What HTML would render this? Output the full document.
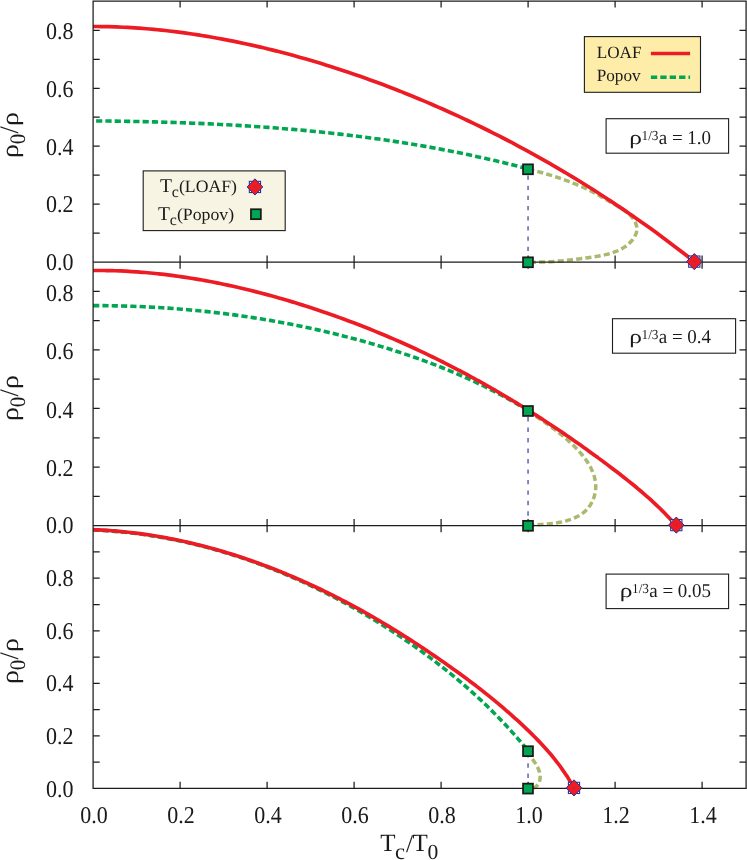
<!DOCTYPE html>
<html><head><meta charset="utf-8"><title>Condensate fraction</title>
<style>
html,body{margin:0;padding:0;background:#fff;}
body{width:747px;height:860px;overflow:hidden;position:relative;font-family:"Liberation Serif",serif;}
</style></head><body>
<svg width="747" height="860" viewBox="0 0 747 860" style="display:block;position:absolute;left:0;top:0" font-family="'Liberation Serif', serif" fill="#1a1a1a" text-rendering="geometricPrecision">
<defs><filter id="gs" x="-5%" y="-5%" width="110%" height="110%" color-interpolation-filters="sRGB"><feOffset dx="0" dy="0"/></filter></defs>
<rect width="747" height="860" fill="#fff"/>
<!-- legend boxes -->
<rect x="584.4" y="36.6" width="116.1" height="55.7" fill="#fdeda8" stroke="#1c1c1c" stroke-width="1.1"/>
<rect x="143.2" y="170.9" width="142" height="59.7" fill="#f7f4e4" stroke="#1c1c1c" stroke-width="1.1"/>
<rect x="606.1" y="118.7" width="122.5" height="34.5" fill="#fff" stroke="#1c1c1c" stroke-width="1.1"/>
<rect x="612.5" y="318.7" width="123.1" height="34.5" fill="#fff" stroke="#1c1c1c" stroke-width="1.1"/>
<rect x="606.1" y="574.1" width="122.5" height="34.5" fill="#fff" stroke="#1c1c1c" stroke-width="1.1"/>
<!-- panel 1 -->
<path d="M528.05,175.46V258.10" stroke="#6a6cb8" stroke-width="1.6" stroke-dasharray="4.3 5.87" fill="none"/>
<path d="M528.30,169.10C528.80,169.22 530.31,169.59 531.32,169.84C532.33,170.09 533.33,170.35 534.34,170.61C535.35,170.87 536.36,171.13 537.37,171.40C538.38,171.67 539.39,171.95 540.41,172.23C541.42,172.51 542.43,172.79 543.44,173.08C544.45,173.37 545.46,173.66 546.47,173.96C547.48,174.26 548.49,174.56 549.50,174.87C550.51,175.18 551.52,175.49 552.53,175.81C553.54,176.13 554.54,176.45 555.55,176.78C556.55,177.11 557.56,177.44 558.56,177.78C559.56,178.12 560.57,178.46 561.56,178.81C562.56,179.16 563.56,179.52 564.56,179.88C565.55,180.24 566.55,180.60 567.54,180.97C568.53,181.35 569.52,181.72 570.50,182.11C571.49,182.49 572.47,182.88 573.45,183.27C574.43,183.66 575.41,184.06 576.38,184.47C577.35,184.88 578.33,185.29 579.29,185.70C580.26,186.12 581.22,186.55 582.18,186.98C583.14,187.41 584.10,187.84 585.05,188.28C586.00,188.72 586.95,189.17 587.89,189.63C588.83,190.08 589.77,190.54 590.70,191.01C591.63,191.47 592.56,191.95 593.49,192.43C594.41,192.91 595.33,193.39 596.24,193.88C597.15,194.38 598.06,194.88 598.97,195.38C599.87,195.89 600.77,196.40 601.66,196.91C602.56,197.43 603.45,197.95 604.35,198.48C605.24,199.00 606.13,199.53 607.03,200.06C607.93,200.58 608.83,201.12 609.74,201.65C610.64,202.18 611.55,202.71 612.47,203.24C613.39,203.78 614.31,204.31 615.24,204.84C616.18,205.37 617.12,205.90 618.05,206.44C618.99,206.99 619.93,207.53 620.85,208.10C621.77,208.66 622.69,209.24 623.59,209.85C624.48,210.45 625.37,211.07 626.22,211.73C627.08,212.39 627.91,213.06 628.71,213.79C629.51,214.51 630.28,215.26 631.00,216.06C631.73,216.86 632.42,217.71 633.05,218.58C633.67,219.45 634.26,220.36 634.75,221.29C635.25,222.22 635.69,223.18 636.02,224.14C636.35,225.10 636.61,226.09 636.75,227.07C636.89,228.05 636.93,229.04 636.85,230.02C636.77,230.99 636.56,231.97 636.27,232.93C635.98,233.89 635.57,234.84 635.11,235.76C634.65,236.68 634.09,237.59 633.49,238.46C632.89,239.33 632.22,240.18 631.52,240.98C630.83,241.78 630.08,242.55 629.32,243.28C628.56,244.00 627.77,244.69 626.95,245.33C626.14,245.98 625.30,246.59 624.43,247.16C623.57,247.74 622.68,248.28 621.78,248.79C620.88,249.29 619.95,249.77 619.01,250.22C618.06,250.66 617.10,251.08 616.12,251.47C615.15,251.86 614.16,252.23 613.15,252.57C612.15,252.91 611.13,253.23 610.10,253.53C609.08,253.82 608.04,254.10 606.99,254.36C605.94,254.62 604.89,254.86 603.83,255.09C602.77,255.32 601.70,255.53 600.63,255.73C599.56,255.93 598.49,256.12 597.42,256.30C596.34,256.48 595.27,256.65 594.20,256.81C593.12,256.98 592.05,257.13 590.98,257.29C589.92,257.44 588.85,257.59 587.80,257.74C586.74,257.89 585.68,258.04 584.63,258.18C583.58,258.33 582.53,258.47 581.49,258.60C580.45,258.74 579.41,258.88 578.37,259.01C577.33,259.14 576.29,259.27 575.26,259.39C574.23,259.52 573.19,259.64 572.16,259.75C571.13,259.87 570.11,259.99 569.08,260.10C568.05,260.21 567.02,260.31 566.00,260.42C564.97,260.52 563.94,260.62 562.92,260.71C561.89,260.81 560.87,260.90 559.84,260.98C558.81,261.07 557.79,261.15 556.76,261.23C555.73,261.31 554.70,261.38 553.67,261.45C552.63,261.52 551.60,261.58 550.57,261.64C549.53,261.70 548.49,261.75 547.45,261.80C546.41,261.85 545.37,261.89 544.32,261.93C543.27,261.97 542.22,262.00 541.17,262.03C540.12,262.06 539.06,262.08 538.00,262.10C536.93,262.12 535.87,262.13 534.79,262.13C533.72,262.14 532.65,262.14 531.56,262.14C530.48,262.13 528.84,262.11 528.30,262.10" fill="none" stroke="#a9b96e" stroke-width="3.5" stroke-dasharray="6.1 3.2" />
<path d="M93.10,120.90C94.03,120.90 96.80,120.93 98.65,120.95C100.49,120.96 102.34,120.98 104.19,121.00C106.04,121.02 107.89,121.05 109.74,121.07C111.59,121.09 113.44,121.12 115.29,121.14C117.14,121.17 118.99,121.20 120.84,121.22C122.69,121.25 124.54,121.28 126.39,121.32C128.24,121.35 130.09,121.38 131.94,121.42C133.79,121.45 135.64,121.49 137.49,121.53C139.34,121.56 141.20,121.60 143.05,121.64C144.90,121.69 146.75,121.73 148.60,121.77C150.45,121.82 152.31,121.86 154.16,121.91C156.01,121.96 157.86,122.01 159.71,122.06C161.57,122.11 163.42,122.17 165.27,122.22C167.12,122.28 168.98,122.33 170.83,122.39C172.68,122.45 174.53,122.51 176.39,122.57C178.24,122.64 180.09,122.70 181.94,122.77C183.80,122.83 185.65,122.90 187.50,122.97C189.35,123.04 191.21,123.11 193.06,123.19C194.91,123.26 196.76,123.34 198.62,123.42C200.47,123.50 202.32,123.58 204.17,123.66C206.03,123.74 207.88,123.83 209.73,123.91C211.58,124.00 213.44,124.09 215.29,124.18C217.14,124.27 218.99,124.36 220.84,124.46C222.70,124.56 224.55,124.65 226.40,124.75C228.25,124.85 230.10,124.96 231.96,125.06C233.81,125.16 235.66,125.27 237.51,125.38C239.36,125.49 241.21,125.60 243.06,125.72C244.91,125.83 246.77,125.95 248.62,126.07C250.47,126.18 252.32,126.31 254.17,126.43C256.02,126.55 257.87,126.68 259.72,126.81C261.57,126.94 263.42,127.07 265.27,127.20C267.12,127.34 268.97,127.47 270.82,127.61C272.67,127.75 274.51,127.89 276.36,128.04C278.21,128.18 280.06,128.33 281.91,128.48C283.76,128.63 285.60,128.78 287.45,128.94C289.30,129.09 291.15,129.25 292.99,129.41C294.84,129.57 296.69,129.73 298.53,129.90C300.38,130.07 302.23,130.24 304.07,130.41C305.92,130.58 307.76,130.76 309.61,130.93C311.45,131.11 313.30,131.29 315.14,131.48C316.99,131.66 318.83,131.85 320.67,132.04C322.52,132.23 324.36,132.42 326.20,132.61C328.05,132.81 329.89,133.01 331.73,133.21C333.57,133.41 335.41,133.62 337.25,133.82C339.10,134.03 340.94,134.24 342.78,134.46C344.62,134.67 346.46,134.89 348.30,135.11C350.14,135.33 351.97,135.56 353.81,135.78C355.65,136.01 357.49,136.24 359.33,136.47C361.16,136.71 363.00,136.95 364.84,137.19C366.67,137.43 368.51,137.67 370.35,137.92C372.18,138.16 374.02,138.41 375.85,138.67C377.68,138.92 379.52,139.18 381.35,139.44C383.18,139.70 385.02,139.97 386.85,140.23C388.68,140.50 390.51,140.77 392.34,141.05C394.17,141.32 396.00,141.60 397.83,141.88C399.66,142.16 401.49,142.45 403.32,142.74C405.15,143.03 406.98,143.32 408.81,143.62C410.63,143.91 412.46,144.21 414.29,144.52C416.11,144.82 417.94,145.13 419.76,145.44C421.59,145.75 423.41,146.07 425.23,146.39C427.06,146.71 428.88,147.03 430.70,147.36C432.52,147.68 434.34,148.01 436.16,148.35C437.98,148.68 439.80,149.02 441.62,149.36C443.44,149.71 445.26,150.05 447.08,150.40C448.90,150.75 450.71,151.11 452.53,151.46C454.34,151.82 456.16,152.18 457.97,152.55C459.79,152.92 461.60,153.29 463.41,153.66C465.23,154.04 467.04,154.41 468.85,154.80C470.66,155.18 472.47,155.57 474.28,155.96C476.09,156.35 477.90,156.74 479.71,157.14C481.52,157.54 483.32,157.95 485.13,158.35C486.94,158.76 488.74,159.17 490.55,159.59C492.35,160.01 494.15,160.43 495.96,160.85C497.76,161.28 499.56,161.71 501.36,162.14C503.16,162.58 504.96,163.01 506.76,163.46C508.56,163.90 510.36,164.35 512.16,164.80C513.95,165.25 515.75,165.71 517.54,166.17C519.34,166.63 521.13,167.09 522.93,167.56C524.72,168.03 527.41,168.75 528.30,168.99" fill="none" stroke="#00a651" stroke-width="3.6" stroke-dasharray="6.2 3.1" stroke-dashoffset="-3.0"/>
<path d="M93.10,26.48C94.37,26.49 98.17,26.50 100.71,26.53C103.25,26.56 105.78,26.61 108.32,26.67C110.85,26.73 113.39,26.81 115.93,26.91C118.46,27.00 121.00,27.11 123.54,27.23C126.07,27.35 128.61,27.49 131.14,27.64C133.68,27.80 136.22,27.96 138.75,28.15C141.29,28.33 143.83,28.52 146.36,28.73C148.90,28.94 151.43,29.17 153.97,29.41C156.51,29.65 159.04,29.90 161.58,30.16C164.12,30.43 166.65,30.71 169.19,31.00C171.72,31.30 174.26,31.60 176.80,31.92C179.33,32.24 181.87,32.58 184.41,32.93C186.94,33.27 189.48,33.63 192.02,34.01C194.55,34.38 197.09,34.77 199.62,35.16C202.16,35.56 204.70,35.98 207.23,36.40C209.77,36.82 212.31,37.26 214.84,37.71C217.38,38.16 219.91,38.62 222.45,39.10C224.99,39.57 227.52,40.06 230.06,40.56C232.60,41.06 235.13,41.57 237.67,42.09C240.20,42.62 242.74,43.15 245.28,43.70C247.81,44.25 250.35,44.81 252.89,45.38C255.42,45.95 257.96,46.53 260.49,47.13C263.03,47.72 265.57,48.33 268.10,48.95C270.64,49.56 273.18,50.19 275.71,50.84C278.25,51.48 280.79,52.13 283.32,52.79C285.86,53.46 288.39,54.13 290.93,54.82C293.47,55.51 296.00,56.21 298.54,56.92C301.08,57.63 303.61,58.35 306.15,59.08C308.68,59.81 311.22,60.55 313.76,61.31C316.29,62.06 318.83,62.83 321.37,63.60C323.90,64.38 326.44,65.17 328.97,65.97C331.51,66.77 334.05,67.58 336.58,68.40C339.12,69.22 341.66,70.05 344.19,70.89C346.73,71.73 349.26,72.59 351.80,73.45C354.34,74.32 356.87,75.19 359.41,76.08C361.95,76.96 364.48,77.86 367.02,78.77C369.56,79.68 372.09,80.60 374.63,81.53C377.16,82.46 379.70,83.40 382.24,84.35C384.77,85.30 387.31,86.26 389.85,87.24C392.38,88.21 394.92,89.19 397.45,90.19C399.99,91.18 402.53,92.19 405.06,93.21C407.60,94.22 410.14,95.25 412.67,96.29C415.21,97.33 417.74,98.38 420.28,99.44C422.82,100.50 425.35,101.57 427.89,102.65C430.43,103.74 432.96,104.83 435.50,105.93C438.04,107.04 440.57,108.15 443.11,109.28C445.64,110.41 448.18,111.55 450.72,112.70C453.25,113.84 455.79,115.01 458.33,116.18C460.86,117.35 463.40,118.53 465.93,119.73C468.47,120.92 471.01,122.13 473.54,123.34C476.08,124.56 478.62,125.79 481.15,127.03C483.69,128.27 486.22,129.52 488.76,130.78C491.30,132.05 493.83,133.32 496.37,134.61C498.91,135.90 501.44,137.19 503.98,138.51C506.51,139.82 509.05,141.14 511.59,142.47C514.12,143.81 516.66,145.15 519.20,146.51C521.73,147.87 524.27,149.24 526.81,150.62C529.34,152.00 531.88,153.40 534.41,154.81C536.95,156.21 539.49,157.63 542.02,159.07C544.56,160.50 547.10,161.94 549.63,163.40C552.17,164.86 554.70,166.33 557.24,167.81C559.78,169.29 562.31,170.79 564.85,172.30C567.39,173.81 569.92,175.33 572.46,176.86C574.99,178.40 577.53,179.95 580.07,181.51C582.60,183.07 585.14,184.65 587.68,186.24C590.21,187.82 592.75,189.43 595.28,191.04C597.82,192.66 600.36,194.29 602.89,195.93C605.43,197.58 607.97,199.24 610.50,200.91C613.04,202.58 615.58,204.27 618.11,205.97C620.65,207.67 623.18,209.38 625.72,211.11C628.26,212.85 630.79,214.59 633.33,216.35C635.87,218.11 638.40,219.88 640.94,221.67C643.47,223.46 646.01,225.27 648.55,227.09C651.08,228.91 653.62,230.75 656.16,232.60C658.69,234.45 661.23,236.32 663.76,238.20C666.30,240.08 668.84,241.98 671.37,243.90C673.91,245.81 676.45,247.74 678.98,249.69C681.52,251.64 684.05,253.60 686.59,255.58C689.13,257.57 692.93,260.58 694.20,261.58" fill="none" stroke="#ed1c24" stroke-width="3.7" stroke-linecap="butt"/>
<!-- panel 2 -->
<path d="M528.05,417.1V521.60" stroke="#6a6cb8" stroke-width="1.6" stroke-dasharray="4.4 6.07" fill="none"/>
<path d="M528.30,411.10C528.65,411.34 529.70,412.05 530.39,412.53C531.08,413.00 531.77,413.47 532.46,413.93C533.15,414.40 533.83,414.86 534.51,415.32C535.19,415.79 535.86,416.24 536.54,416.70C537.21,417.16 537.88,417.61 538.55,418.06C539.21,418.52 539.88,418.97 540.54,419.42C541.20,419.87 541.85,420.32 542.51,420.78C543.16,421.23 543.82,421.68 544.47,422.13C545.12,422.58 545.76,423.03 546.41,423.48C547.05,423.93 547.69,424.39 548.33,424.84C548.97,425.29 549.61,425.75 550.25,426.21C550.88,426.67 551.51,427.13 552.15,427.59C552.78,428.05 553.41,428.52 554.03,428.98C554.66,429.45 555.29,429.92 555.91,430.40C556.54,430.87 557.16,431.35 557.78,431.83C558.40,432.32 559.02,432.80 559.64,433.29C560.26,433.79 560.87,434.28 561.49,434.78C562.10,435.28 562.72,435.79 563.33,436.30C563.95,436.82 564.56,437.33 565.17,437.86C565.78,438.38 566.39,438.91 567.00,439.45C567.61,439.99 568.22,440.53 568.83,441.09C569.44,441.64 570.05,442.20 570.66,442.77C571.26,443.33 571.87,443.91 572.47,444.49C573.08,445.07 573.68,445.66 574.28,446.26C574.88,446.86 575.47,447.46 576.06,448.07C576.65,448.68 577.23,449.30 577.81,449.93C578.39,450.55 578.96,451.18 579.53,451.82C580.09,452.46 580.65,453.10 581.20,453.75C581.75,454.40 582.29,455.06 582.82,455.72C583.35,456.38 583.87,457.05 584.38,457.72C584.88,458.40 585.38,459.08 585.87,459.76C586.35,460.45 586.83,461.14 587.28,461.83C587.74,462.53 588.19,463.23 588.62,463.94C589.05,464.64 589.46,465.35 589.86,466.07C590.26,466.78 590.64,467.51 591.01,468.23C591.37,468.96 591.72,469.69 592.05,470.42C592.38,471.15 592.69,471.89 592.97,472.63C593.26,473.38 593.53,474.12 593.78,474.87C594.03,475.62 594.26,476.38 594.46,477.13C594.66,477.89 594.85,478.65 595.00,479.42C595.16,480.18 595.29,480.95 595.40,481.72C595.51,482.49 595.59,483.26 595.65,484.04C595.71,484.82 595.74,485.60 595.74,486.38C595.74,487.16 595.72,487.95 595.66,488.73C595.61,489.52 595.53,490.31 595.42,491.10C595.31,491.88 595.17,492.67 595.01,493.45C594.84,494.23 594.65,495.01 594.44,495.78C594.22,496.55 593.97,497.32 593.70,498.07C593.43,498.83 593.14,499.58 592.82,500.32C592.49,501.05 592.15,501.78 591.77,502.49C591.40,503.21 591.00,503.91 590.58,504.59C590.16,505.27 589.71,505.94 589.24,506.59C588.77,507.24 588.27,507.87 587.75,508.48C587.23,509.09 586.69,509.68 586.12,510.25C585.56,510.81 584.97,511.36 584.36,511.88C583.75,512.40 583.11,512.90 582.46,513.38C581.82,513.86 581.15,514.31 580.47,514.75C579.78,515.19 579.08,515.60 578.37,516.00C577.67,516.40 576.94,516.77 576.21,517.13C575.47,517.49 574.73,517.83 573.98,518.15C573.23,518.47 572.47,518.78 571.70,519.06C570.93,519.35 570.16,519.62 569.38,519.88C568.60,520.13 567.81,520.37 567.02,520.60C566.23,520.83 565.43,521.04 564.63,521.24C563.83,521.44 563.02,521.63 562.21,521.80C561.40,521.98 560.58,522.14 559.77,522.30C558.95,522.45 558.13,522.59 557.31,522.73C556.48,522.86 555.66,522.98 554.83,523.10C554.01,523.22 553.18,523.33 552.35,523.43C551.53,523.53 550.70,523.63 549.87,523.72C549.05,523.81 548.22,523.89 547.39,523.97C546.57,524.05 545.74,524.13 544.92,524.20C544.10,524.27 543.28,524.34 542.47,524.41C541.65,524.48 540.84,524.54 540.03,524.61C539.22,524.68 538.41,524.74 537.61,524.81C536.81,524.87 536.02,524.94 535.23,525.01C534.44,525.07 533.66,525.14 532.88,525.22C532.10,525.29 531.33,525.37 530.57,525.45C529.81,525.53 528.68,525.66 528.30,525.70" fill="none" stroke="#a9b96e" stroke-width="3.5" stroke-dasharray="6.1 3.2" />
<path d="M93.10,305.59C94.06,305.60 96.91,305.60 98.82,305.61C100.72,305.62 102.63,305.63 104.54,305.65C106.44,305.67 108.35,305.69 110.25,305.72C112.16,305.75 114.07,305.79 115.97,305.83C117.88,305.87 119.79,305.91 121.70,305.96C123.60,306.01 125.51,306.07 127.42,306.13C129.32,306.18 131.23,306.25 133.14,306.32C135.05,306.39 136.95,306.46 138.86,306.54C140.77,306.62 142.68,306.71 144.59,306.80C146.49,306.89 148.40,306.98 150.31,307.09C152.22,307.19 154.12,307.29 156.03,307.40C157.94,307.51 159.84,307.63 161.75,307.75C163.66,307.87 165.57,308.00 167.47,308.13C169.38,308.26 171.29,308.40 173.19,308.54C175.10,308.68 177.00,308.83 178.91,308.98C180.82,309.13 182.72,309.29 184.63,309.45C186.53,309.62 188.44,309.78 190.34,309.96C192.24,310.13 194.15,310.31 196.05,310.49C197.96,310.68 199.86,310.87 201.76,311.06C203.66,311.25 205.57,311.45 207.47,311.66C209.37,311.86 211.27,312.07 213.17,312.29C215.07,312.51 216.97,312.73 218.87,312.95C220.77,313.18 222.67,313.41 224.57,313.65C226.47,313.89 228.36,314.13 230.26,314.38C232.16,314.63 234.06,314.88 235.95,315.14C237.85,315.40 239.74,315.66 241.64,315.93C243.53,316.20 245.42,316.47 247.32,316.76C249.21,317.04 251.10,317.32 252.99,317.61C254.88,317.90 256.77,318.20 258.66,318.50C260.55,318.81 262.44,319.11 264.33,319.43C266.21,319.74 268.10,320.06 269.99,320.39C271.87,320.71 273.76,321.04 275.64,321.38C277.52,321.71 279.41,322.05 281.29,322.40C283.17,322.75 285.05,323.10 286.93,323.46C288.81,323.81 290.69,324.18 292.56,324.55C294.44,324.91 296.32,325.29 298.19,325.67C300.07,326.05 301.94,326.44 303.81,326.83C305.68,327.22 307.56,327.62 309.43,328.02C311.30,328.42 313.16,328.83 315.03,329.24C316.90,329.66 318.76,330.08 320.63,330.50C322.49,330.93 324.36,331.36 326.22,331.80C328.08,332.24 329.94,332.68 331.80,333.13C333.66,333.58 335.52,334.03 337.37,334.49C339.23,334.95 341.08,335.42 342.94,335.89C344.79,336.36 346.64,336.84 348.49,337.32C350.34,337.80 352.19,338.29 354.04,338.79C355.88,339.28 357.73,339.78 359.57,340.29C361.42,340.79 363.26,341.31 365.10,341.82C366.94,342.34 368.78,342.87 370.61,343.39C372.45,343.92 374.29,344.46 376.12,345.00C377.95,345.54 379.78,346.09 381.61,346.64C383.44,347.20 385.27,347.76 387.10,348.32C388.92,348.89 390.75,349.46 392.57,350.04C394.39,350.61 396.21,351.20 398.03,351.79C399.85,352.38 401.66,352.98 403.47,353.58C405.29,354.18 407.10,354.79 408.90,355.41C410.71,356.03 412.52,356.65 414.32,357.28C416.12,357.91 417.92,358.55 419.72,359.19C421.52,359.84 423.31,360.49 425.11,361.15C426.90,361.81 428.69,362.47 430.47,363.15C432.26,363.82 434.04,364.50 435.82,365.19C437.60,365.88 439.38,366.57 441.15,367.28C442.92,367.98 444.70,368.69 446.46,369.41C448.23,370.13 449.99,370.86 451.75,371.59C453.51,372.33 455.27,373.07 457.02,373.82C458.77,374.58 460.52,375.34 462.27,376.10C464.01,376.87 465.75,377.65 467.49,378.43C469.23,379.22 470.96,380.01 472.69,380.82C474.42,381.62 476.15,382.43 477.87,383.25C479.59,384.07 481.31,384.90 483.02,385.74C484.73,386.57 486.44,387.42 488.14,388.28C489.85,389.13 491.55,390.00 493.24,390.87C494.94,391.75 496.63,392.63 498.31,393.52C500.00,394.42 501.68,395.32 503.36,396.23C505.03,397.15 506.70,398.07 508.37,399.00C510.04,399.93 511.70,400.87 513.35,401.83C515.01,402.78 516.66,403.74 518.31,404.71C519.95,405.69 521.59,406.67 523.23,407.66C524.86,408.65 527.30,410.17 528.12,410.67" fill="none" stroke="#00a651" stroke-width="3.6" stroke-dasharray="6.2 3.1" stroke-dashoffset="0"/>
<path d="M93.10,270.50C94.01,270.50 96.76,270.48 98.59,270.48C100.41,270.48 102.24,270.50 104.07,270.52C105.90,270.54 107.72,270.57 109.55,270.61C111.37,270.65 113.20,270.70 115.02,270.76C116.85,270.82 118.67,270.88 120.49,270.96C122.32,271.04 124.14,271.12 125.96,271.22C127.78,271.31 129.60,271.41 131.42,271.53C133.24,271.64 135.06,271.76 136.88,271.89C138.70,272.02 140.52,272.15 142.33,272.30C144.15,272.45 145.96,272.60 147.78,272.76C149.60,272.93 151.41,273.10 153.22,273.28C155.04,273.46 156.85,273.64 158.66,273.84C160.47,274.04 162.28,274.24 164.09,274.45C165.90,274.66 167.71,274.88 169.52,275.11C171.33,275.34 173.13,275.58 174.94,275.82C176.74,276.06 178.55,276.31 180.35,276.57C182.16,276.83 183.96,277.10 185.76,277.37C187.56,277.65 189.36,277.93 191.16,278.22C192.96,278.50 194.76,278.80 196.56,279.10C198.35,279.41 200.15,279.72 201.94,280.04C203.74,280.36 205.53,280.68 207.32,281.01C209.12,281.35 210.91,281.68 212.70,282.03C214.49,282.38 216.28,282.73 218.06,283.09C219.85,283.45 221.64,283.82 223.42,284.19C225.21,284.56 226.99,284.94 228.77,285.33C230.56,285.72 232.34,286.11 234.12,286.51C235.90,286.91 237.67,287.32 239.45,287.73C241.23,288.14 243.00,288.56 244.78,288.99C246.55,289.41 248.32,289.84 250.10,290.28C251.87,290.72 253.64,291.16 255.41,291.61C257.17,292.06 258.94,292.52 260.71,292.98C262.47,293.44 264.23,293.91 266.00,294.38C267.76,294.85 269.52,295.33 271.28,295.81C273.04,296.30 274.80,296.79 276.55,297.28C278.31,297.78 280.06,298.28 281.82,298.79C283.57,299.29 285.32,299.81 287.07,300.32C288.82,300.84 290.57,301.36 292.31,301.89C294.06,302.42 295.80,302.95 297.55,303.49C299.29,304.03 301.03,304.57 302.77,305.12C304.51,305.66 306.25,306.22 307.98,306.78C309.72,307.34 311.45,307.90 313.18,308.47C314.92,309.04 316.65,309.61 318.38,310.19C320.10,310.77 321.83,311.35 323.56,311.94C325.28,312.53 327.01,313.12 328.73,313.72C330.45,314.32 332.17,314.93 333.89,315.54C335.60,316.14 337.32,316.76 339.03,317.38C340.75,318.00 342.46,318.62 344.17,319.25C345.88,319.88 347.59,320.51 349.30,321.15C351.00,321.79 352.71,322.44 354.41,323.09C356.11,323.73 357.82,324.39 359.51,325.05C361.21,325.71 362.91,326.37 364.61,327.04C366.30,327.71 367.99,328.38 369.69,329.06C371.38,329.74 373.07,330.42 374.75,331.11C376.44,331.80 378.13,332.49 379.81,333.19C381.49,333.89 383.17,334.59 384.85,335.30C386.53,336.01 388.21,336.72 389.88,337.44C391.56,338.15 393.23,338.87 394.90,339.60C396.57,340.33 398.24,341.06 399.91,341.80C401.58,342.53 403.24,343.27 404.90,344.02C406.57,344.76 408.23,345.51 409.89,346.27C411.54,347.03 413.20,347.79 414.86,348.55C416.51,349.31 418.16,350.08 419.81,350.86C421.46,351.63 423.11,352.41 424.75,353.19C426.40,353.98 428.04,354.76 429.68,355.56C431.33,356.35 432.96,357.15 434.60,357.95C436.24,358.75 437.87,359.56 439.50,360.37C441.14,361.18 442.77,361.99 444.40,362.81C446.02,363.63 447.65,364.46 449.27,365.29C450.89,366.12 452.52,366.95 454.13,367.79C455.75,368.63 457.37,369.47 458.98,370.32C460.60,371.16 462.21,372.02 463.82,372.87C465.43,373.73 467.04,374.59 468.64,375.45C470.24,376.32 471.85,377.19 473.45,378.06C475.05,378.94 476.65,379.81 478.24,380.70C479.84,381.58 481.43,382.47 483.02,383.36C484.61,384.25 486.20,385.14 487.78,386.04C489.37,386.94 490.95,387.85 492.54,388.76C494.12,389.66 495.70,390.58 497.27,391.49C498.85,392.41 500.42,393.33 502.00,394.26C503.57,395.18 505.14,396.11 506.70,397.04C508.27,397.98 509.84,398.91 511.40,399.85C512.96,400.80 514.52,401.74 516.08,402.69C517.64,403.64 519.19,404.59 520.74,405.55C522.30,406.51 523.85,407.47 525.40,408.43C526.94,409.40 528.49,410.37 530.03,411.34C531.58,412.31 533.12,413.29 534.66,414.27C536.19,415.25 537.73,416.24 539.26,417.23C540.80,418.21 542.33,419.21 543.86,420.20C545.39,421.20 546.91,422.20 548.44,423.20C549.96,424.21 551.48,425.21 553.00,426.22C554.52,427.24 556.04,428.25 557.55,429.27C559.07,430.29 560.58,431.31 562.09,432.33C563.60,433.36 565.10,434.39 566.61,435.42C568.11,436.45 569.62,437.49 571.11,438.53C572.61,439.57 574.11,440.61 575.61,441.66C577.10,442.71 578.59,443.76 580.08,444.81C581.57,445.86 583.06,446.92 584.55,447.98C586.03,449.04 587.51,450.11 588.99,451.17C590.47,452.24 591.95,453.31 593.43,454.39C594.90,455.46 596.37,456.54 597.84,457.62C599.31,458.70 600.78,459.78 602.25,460.87C603.71,461.96 605.17,463.05 606.63,464.14C608.09,465.23 609.55,466.33 611.01,467.43C612.46,468.53 613.92,469.63 615.36,470.74C616.81,471.85 618.26,472.96 619.70,474.07C621.14,475.19 622.58,476.31 624.02,477.44C625.45,478.56 626.88,479.69 628.30,480.83C629.73,481.97 631.15,483.11 632.56,484.26C633.97,485.41 635.38,486.56 636.78,487.73C638.18,488.89 639.57,490.06 640.96,491.24C642.35,492.42 643.73,493.61 645.10,494.80C646.47,496.00 647.84,497.20 649.19,498.41C650.55,499.63 651.89,500.85 653.23,502.08C654.57,503.31 655.90,504.56 657.22,505.81C658.54,507.06 659.85,508.33 661.15,509.60C662.45,510.88 663.74,512.16 665.02,513.46C666.30,514.76 667.56,516.07 668.82,517.40C670.07,518.72 671.32,520.05 672.55,521.40C673.78,522.75 675.60,524.81 676.21,525.49" fill="none" stroke="#ed1c24" stroke-width="3.7" stroke-linecap="butt"/>
<!-- panel 3 -->
<path d="M528.05,753.0V784.40" stroke="#6a6cb8" stroke-width="1.6" stroke-dasharray="4.5 5.8" fill="none"/>
<path d="M528.10,750.90C528.12,751.00 528.20,751.28 528.25,751.46C528.31,751.64 528.37,751.83 528.43,752.01C528.49,752.19 528.56,752.37 528.62,752.55C528.69,752.73 528.77,752.91 528.84,753.08C528.92,753.26 529.00,753.44 529.08,753.61C529.16,753.79 529.24,753.96 529.33,754.14C529.42,754.31 529.51,754.48 529.60,754.65C529.69,754.83 529.78,755.00 529.88,755.17C529.98,755.34 530.08,755.51 530.18,755.68C530.28,755.85 530.38,756.02 530.49,756.19C530.59,756.35 530.70,756.52 530.80,756.69C530.91,756.86 531.02,757.03 531.13,757.19C531.25,757.36 531.36,757.53 531.47,757.70C531.59,757.86 531.70,758.03 531.82,758.20C531.93,758.37 532.05,758.53 532.17,758.70C532.28,758.87 532.40,759.04 532.52,759.20C532.64,759.37 532.76,759.54 532.88,759.71C533.00,759.88 533.12,760.05 533.24,760.22C533.36,760.39 533.48,760.56 533.60,760.73C533.72,760.90 533.84,761.07 533.96,761.24C534.08,761.41 534.20,761.58 534.32,761.76C534.44,761.93 534.56,762.10 534.68,762.28C534.80,762.45 534.91,762.63 535.03,762.81C535.15,762.98 535.26,763.16 535.38,763.34C535.49,763.52 535.60,763.70 535.72,763.88C535.83,764.06 535.94,764.24 536.05,764.42C536.16,764.60 536.27,764.79 536.37,764.97C536.48,765.16 536.59,765.34 536.69,765.53C536.79,765.71 536.90,765.90 537.00,766.09C537.10,766.28 537.20,766.46 537.29,766.65C537.39,766.84 537.49,767.03 537.58,767.22C537.67,767.41 537.77,767.60 537.86,767.79C537.95,767.99 538.03,768.18 538.12,768.37C538.20,768.56 538.29,768.76 538.37,768.95C538.45,769.15 538.53,769.34 538.61,769.54C538.68,769.73 538.76,769.93 538.83,770.12C538.90,770.32 538.97,770.51 539.04,770.71C539.10,770.91 539.17,771.11 539.23,771.30C539.29,771.50 539.35,771.70 539.41,771.90C539.46,772.09 539.51,772.29 539.56,772.49C539.61,772.69 539.66,772.89 539.71,773.09C539.75,773.29 539.79,773.49 539.83,773.69C539.87,773.89 539.90,774.09 539.93,774.29C539.96,774.49 539.99,774.69 540.02,774.89C540.04,775.09 540.06,775.29 540.08,775.49C540.10,775.69 540.11,775.89 540.12,776.09C540.13,776.29 540.14,776.49 540.14,776.69C540.14,776.89 540.14,777.09 540.14,777.29C540.13,777.49 540.12,777.69 540.11,777.89C540.10,778.09 540.08,778.29 540.06,778.49C540.04,778.69 540.02,778.88 539.99,779.08C539.96,779.28 539.93,779.47 539.89,779.67C539.86,779.86 539.82,780.06 539.77,780.25C539.73,780.44 539.68,780.63 539.63,780.82C539.58,781.01 539.52,781.20 539.46,781.39C539.40,781.57 539.34,781.76 539.27,781.94C539.20,782.12 539.13,782.30 539.06,782.48C538.98,782.66 538.90,782.83 538.82,783.00C538.73,783.18 538.65,783.35 538.55,783.52C538.46,783.68 538.37,783.85 538.27,784.01C538.17,784.17 538.06,784.33 537.96,784.49C537.85,784.64 537.74,784.79 537.62,784.94C537.50,785.09 537.38,785.23 537.26,785.38C537.13,785.52 537.01,785.66 536.87,785.79C536.74,785.92 536.61,786.05 536.46,786.18C536.32,786.30 536.18,786.42 536.03,786.54C535.88,786.66 535.73,786.77 535.57,786.88C535.41,786.98 535.25,787.09 535.09,787.19C534.92,787.28 534.75,787.38 534.58,787.46C534.40,787.55 534.23,787.63 534.04,787.71C533.86,787.79 533.68,787.86 533.49,787.93C533.30,787.99 533.10,788.05 532.90,788.11C532.70,788.16 532.50,788.21 532.29,788.25C532.08,788.29 531.87,788.33 531.66,788.36C531.44,788.39 531.22,788.41 531.00,788.43C530.77,788.45 530.54,788.46 530.31,788.46C530.08,788.47 529.84,788.46 529.60,788.45C529.36,788.44 529.11,788.42 528.86,788.40C528.61,788.37 528.22,788.32 528.10,788.30" fill="none" stroke="#a9b96e" stroke-width="3.5" stroke-dasharray="6.1 3.2" />
<path d="M93.10,529.99C94.16,530.04 97.35,530.17 99.47,530.28C101.60,530.40 103.72,530.52 105.83,530.66C107.95,530.80 110.07,530.95 112.19,531.12C114.30,531.28 116.41,531.46 118.52,531.65C120.63,531.84 122.74,532.05 124.85,532.26C126.96,532.48 129.06,532.71 131.17,532.96C133.27,533.20 135.37,533.46 137.47,533.73C139.57,534.00 141.66,534.28 143.76,534.57C145.85,534.87 147.94,535.18 150.03,535.50C152.12,535.82 154.21,536.15 156.29,536.49C158.38,536.84 160.46,537.20 162.54,537.57C164.62,537.94 166.69,538.32 168.77,538.71C170.84,539.11 172.92,539.52 174.98,539.93C177.05,540.35 179.12,540.78 181.18,541.23C183.25,541.67 185.31,542.12 187.37,542.59C189.43,543.06 191.48,543.54 193.54,544.03C195.59,544.52 197.64,545.02 199.69,545.53C201.73,546.05 203.78,546.57 205.82,547.11C207.86,547.65 209.90,548.19 211.94,548.75C213.97,549.31 216.00,549.88 218.03,550.47C220.06,551.05 222.09,551.64 224.11,552.25C226.13,552.85 228.15,553.47 230.17,554.10C232.19,554.72 234.20,555.36 236.21,556.01C238.22,556.66 240.23,557.32 242.23,557.99C244.23,558.66 246.23,559.34 248.23,560.03C250.23,560.73 252.22,561.43 254.21,562.14C256.20,562.85 258.18,563.58 260.17,564.31C262.15,565.05 264.13,565.79 266.10,566.55C268.08,567.30 270.05,568.07 272.02,568.84C273.98,569.62 275.95,570.40 277.91,571.20C279.87,572.00 281.82,572.80 283.78,573.62C285.73,574.43 287.68,575.26 289.62,576.09C291.57,576.93 293.51,577.78 295.45,578.63C297.38,579.49 299.31,580.35 301.24,581.23C303.17,582.10 305.10,582.98 307.02,583.88C308.94,584.77 310.85,585.68 312.77,586.59C314.68,587.50 316.59,588.42 318.49,589.35C320.39,590.28 322.29,591.23 324.19,592.17C326.08,593.12 327.97,594.08 329.86,595.05C331.75,596.02 333.63,597.00 335.50,597.98C337.38,598.97 339.25,599.96 341.12,600.96C342.99,601.97 344.85,602.98 346.71,604.00C348.57,605.02 350.43,606.05 352.28,607.09C354.13,608.13 355.97,609.17 357.81,610.23C359.65,611.28 361.49,612.35 363.32,613.42C365.15,614.49 366.97,615.57 368.79,616.66C370.62,617.75 372.43,618.84 374.24,619.95C376.05,621.05 377.86,622.16 379.66,623.28C381.46,624.40 383.26,625.53 385.05,626.67C386.84,627.80 388.62,628.95 390.40,630.10C392.19,631.25 393.96,632.41 395.73,633.58C397.50,634.75 399.27,635.92 401.02,637.10C402.78,638.28 404.54,639.47 406.29,640.67C408.04,641.87 409.78,643.07 411.52,644.28C413.25,645.50 414.99,646.72 416.71,647.95C418.44,649.17 420.16,650.41 421.87,651.65C423.58,652.90 425.29,654.15 426.99,655.41C428.69,656.66 430.39,657.93 432.08,659.21C433.77,660.48 435.45,661.76 437.12,663.06C438.80,664.35 440.47,665.65 442.13,666.95C443.79,668.26 445.45,669.58 447.09,670.90C448.74,672.22 450.38,673.56 452.02,674.90C453.65,676.24 455.28,677.59 456.90,678.94C458.52,680.30 460.13,681.67 461.73,683.04C463.34,684.41 464.93,685.80 466.52,687.19C468.11,688.58 469.69,689.98 471.26,691.39C472.83,692.79 474.40,694.21 475.96,695.64C477.51,697.06 479.06,698.50 480.60,699.94C482.14,701.38 483.67,702.84 485.19,704.30C486.72,705.76 488.23,707.23 489.74,708.71C491.24,710.19 492.74,711.67 494.23,713.17C495.72,714.67 497.19,716.17 498.66,717.69C500.13,719.20 501.59,720.73 503.05,722.26C504.50,723.80 505.94,725.34 507.37,726.89C508.80,728.44 510.23,730.00 511.64,731.58C513.05,733.15 514.45,734.73 515.85,736.32C517.24,737.91 518.63,739.51 520.00,741.11C521.37,742.72 522.74,744.34 524.09,745.97C525.44,747.60 527.44,750.07 528.12,750.88" fill="none" stroke="#00a651" stroke-width="3.6" stroke-dasharray="6.2 3.1" stroke-dashoffset="0"/>
<path d="M93.10,529.69C93.89,529.73 96.25,529.81 97.82,529.88C99.40,529.96 100.97,530.04 102.54,530.12C104.11,530.21 105.68,530.30 107.26,530.41C108.83,530.51 110.40,530.62 111.97,530.74C113.54,530.86 115.10,530.98 116.67,531.12C118.24,531.25 119.81,531.39 121.38,531.54C122.94,531.69 124.51,531.85 126.07,532.01C127.64,532.17 129.20,532.34 130.77,532.52C132.33,532.70 133.89,532.89 135.46,533.08C137.02,533.28 138.58,533.48 140.14,533.69C141.70,533.89 143.26,534.11 144.82,534.33C146.38,534.56 147.93,534.79 149.49,535.02C151.05,535.26 152.60,535.50 154.16,535.76C155.71,536.01 157.26,536.27 158.82,536.53C160.37,536.80 161.92,537.07 163.47,537.35C165.02,537.63 166.57,537.92 168.12,538.21C169.66,538.50 171.21,538.80 172.76,539.11C174.30,539.42 175.85,539.73 177.39,540.05C178.93,540.37 180.47,540.70 182.02,541.03C183.56,541.37 185.10,541.71 186.63,542.06C188.17,542.40 189.71,542.76 191.24,543.12C192.78,543.48 194.31,543.85 195.85,544.22C197.38,544.59 198.91,544.97 200.44,545.36C201.97,545.75 203.50,546.14 205.02,546.54C206.55,546.94 208.08,547.34 209.60,547.75C211.12,548.17 212.65,548.58 214.17,549.01C215.69,549.43 217.21,549.86 218.72,550.30C220.24,550.74 221.76,551.18 223.27,551.63C224.79,552.08 226.30,552.53 227.81,552.99C229.32,553.45 230.83,553.92 232.34,554.39C233.85,554.86 235.35,555.34 236.86,555.83C238.36,556.31 239.86,556.80 241.36,557.30C242.86,557.79 244.36,558.29 245.86,558.80C247.36,559.31 248.85,559.82 250.34,560.34C251.84,560.86 253.33,561.38 254.82,561.91C256.31,562.44 257.79,562.98 259.28,563.52C260.77,564.06 262.25,564.60 263.73,565.16C265.21,565.71 266.69,566.26 268.17,566.83C269.65,567.39 271.12,567.96 272.59,568.53C274.07,569.10 275.54,569.68 277.01,570.27C278.48,570.85 279.94,571.44 281.41,572.03C282.87,572.63 284.33,573.22 285.80,573.83C287.26,574.43 288.71,575.04 290.17,575.66C291.62,576.27 293.08,576.89 294.53,577.51C295.98,578.14 297.43,578.77 298.88,579.40C300.32,580.03 301.77,580.67 303.21,581.32C304.65,581.96 306.09,582.61 307.53,583.26C308.96,583.91 310.40,584.57 311.83,585.23C313.26,585.90 314.69,586.56 316.12,587.23C317.55,587.91 318.97,588.58 320.39,589.26C321.82,589.94 323.23,590.63 324.65,591.32C326.07,592.01 327.48,592.70 328.89,593.40C330.31,594.10 331.72,594.80 333.12,595.51C334.53,596.22 335.93,596.93 337.34,597.64C338.74,598.36 340.14,599.08 341.54,599.80C342.93,600.53 344.33,601.26 345.72,601.99C347.11,602.72 348.50,603.46 349.89,604.20C351.28,604.94 352.66,605.69 354.05,606.44C355.43,607.18 356.81,607.94 358.19,608.70C359.57,609.45 360.94,610.21 362.32,610.98C363.69,611.74 365.06,612.51 366.43,613.29C367.80,614.06 369.17,614.84 370.53,615.62C371.90,616.40 373.26,617.18 374.62,617.97C375.98,618.76 377.34,619.55 378.70,620.35C380.05,621.15 381.41,621.95 382.76,622.75C384.11,623.55 385.46,624.36 386.81,625.17C388.16,625.98 389.50,626.80 390.85,627.62C392.19,628.43 393.53,629.26 394.87,630.08C396.21,630.91 397.55,631.74 398.88,632.57C400.22,633.40 401.55,634.24 402.88,635.08C404.22,635.91 405.55,636.76 406.87,637.60C408.20,638.45 409.53,639.30 410.85,640.15C412.17,641.00 413.49,641.86 414.81,642.72C416.13,643.58 417.45,644.44 418.77,645.31C420.08,646.17 421.40,647.04 422.71,647.91C424.02,648.79 425.33,649.66 426.64,650.54C427.95,651.42 429.26,652.30 430.56,653.18C431.87,654.07 433.17,654.96 434.47,655.85C435.78,656.74 437.08,657.63 438.37,658.53C439.67,659.42 440.97,660.32 442.26,661.23C443.56,662.13 444.85,663.03 446.14,663.94C447.43,664.85 448.72,665.76 450.01,666.68C451.30,667.59 452.58,668.51 453.86,669.43C455.15,670.35 456.43,671.27 457.71,672.20C458.99,673.13 460.26,674.06 461.54,674.99C462.81,675.93 464.08,676.87 465.35,677.81C466.62,678.75 467.88,679.69 469.15,680.64C470.41,681.59 471.67,682.54 472.93,683.50C474.18,684.45 475.44,685.41 476.69,686.37C477.94,687.34 479.19,688.31 480.43,689.28C481.68,690.25 482.92,691.22 484.16,692.20C485.40,693.18 486.63,694.16 487.86,695.15C489.09,696.14 490.32,697.13 491.54,698.12C492.77,699.12 493.99,700.12 495.21,701.12C496.42,702.13 497.63,703.14 498.84,704.15C500.05,705.16 501.26,706.18 502.46,707.20C503.66,708.23 504.85,709.25 506.04,710.28C507.24,711.31 508.42,712.35 509.61,713.39C510.79,714.43 511.97,715.48 513.14,716.53C514.32,717.58 515.49,718.63 516.65,719.69C517.82,720.75 518.98,721.82 520.13,722.89C521.29,723.96 522.44,725.04 523.58,726.12C524.73,727.20 525.87,728.28 527.00,729.37C528.14,730.46 529.27,731.56 530.39,732.66C531.51,733.76 532.63,734.87 533.74,735.99C534.85,737.10 535.96,738.22 537.05,739.35C538.15,740.47 539.24,741.61 540.32,742.75C541.40,743.89 542.47,745.04 543.53,746.20C544.59,747.36 545.65,748.52 546.69,749.70C547.73,750.87 548.76,752.06 549.78,753.25C550.80,754.44 551.81,755.64 552.81,756.86C553.80,758.07 554.79,759.29 555.76,760.53C556.73,761.76 557.69,763.00 558.63,764.26C559.57,765.51 560.50,766.78 561.42,768.06C562.33,769.34 563.23,770.63 564.12,771.93C565.00,773.23 565.87,774.55 566.72,775.87C567.57,777.20 568.41,778.54 569.22,779.90C570.04,781.26 570.84,782.62 571.62,784.01C572.40,785.39 573.52,787.50 573.90,788.20" fill="none" stroke="#ed1c24" stroke-width="3.7" stroke-linecap="butt"/>
<!-- axes -->
<g stroke="#1c1c1c" stroke-width="1.25" fill="none">
<path d="M93.1,1.0H746.1V788.4H93.1Z"/>
<path d="M93.1,262.1H746.1M93.1,525.6H746.1"/>
<path d="M180.10,1.0v6.6M180.10,255.50000000000003v13.2M180.10,519.0v13.2M180.10,781.8v6.6M267.10,1.0v6.6M267.10,255.50000000000003v13.2M267.10,519.0v13.2M267.10,781.8v6.6M354.10,1.0v6.6M354.10,255.50000000000003v13.2M354.10,519.0v13.2M354.10,781.8v6.6M441.10,1.0v6.6M441.10,255.50000000000003v13.2M441.10,519.0v13.2M441.10,781.8v6.6M528.10,1.0v6.6M528.10,255.50000000000003v13.2M528.10,519.0v13.2M528.10,781.8v6.6M615.10,1.0v6.6M615.10,255.50000000000003v13.2M615.10,519.0v13.2M615.10,781.8v6.6M702.10,1.0v6.6M702.10,255.50000000000003v13.2M702.10,519.0v13.2M702.10,781.8v6.6M93.1,233.13h6.6M746.1,233.13h-6.6M93.1,204.15h6.6M746.1,204.15h-6.6M93.1,175.18h6.6M746.1,175.18h-6.6M93.1,146.20h6.6M746.1,146.20h-6.6M93.1,117.23h6.6M746.1,117.23h-6.6M93.1,88.25h6.6M746.1,88.25h-6.6M93.1,59.28h6.6M746.1,59.28h-6.6M93.1,30.30h6.6M746.1,30.30h-6.6M93.1,496.32h6.6M746.1,496.32h-6.6M93.1,467.04h6.6M746.1,467.04h-6.6M93.1,437.76h6.6M746.1,437.76h-6.6M93.1,408.48h6.6M746.1,408.48h-6.6M93.1,379.20h6.6M746.1,379.20h-6.6M93.1,349.92h6.6M746.1,349.92h-6.6M93.1,320.64h6.6M746.1,320.64h-6.6M93.1,291.36h6.6M746.1,291.36h-6.6M93.1,762.13h6.6M746.1,762.13h-6.6M93.1,735.86h6.6M746.1,735.86h-6.6M93.1,709.59h6.6M746.1,709.59h-6.6M93.1,683.32h6.6M746.1,683.32h-6.6M93.1,657.05h6.6M746.1,657.05h-6.6M93.1,630.78h6.6M746.1,630.78h-6.6M93.1,604.51h6.6M746.1,604.51h-6.6M93.1,578.24h6.6M746.1,578.24h-6.6M93.1,551.97h6.6M746.1,551.97h-6.6"/>
</g>
<!-- markers -->
<rect x="523.05" y="164.35" width="9.9" height="9.9" fill="#00a651" stroke="#1a1a1a" stroke-width="1.75"/>
<rect x="523.05" y="257.35" width="9.9" height="9.9" fill="#00a651" stroke="#1a1a1a" stroke-width="1.75"/>
<rect x="688.70" y="256.00" width="11.2" height="11.2" fill="#fff" stroke="#2e3192" stroke-width="1.1"/>
<path d="M686.50,261.60L694.30,253.50L702.10,261.60L694.30,269.70Z" fill="#ed1c24" stroke="#2e3192" stroke-width="1.0" stroke-linejoin="miter"/>
<circle cx="694.30" cy="261.60" r="0.6" fill="#2e3192" opacity="0.6"/>
<rect x="523.05" y="406.05" width="9.9" height="9.9" fill="#00a651" stroke="#1a1a1a" stroke-width="1.75"/>
<rect x="523.05" y="520.85" width="9.9" height="9.9" fill="#00a651" stroke="#1a1a1a" stroke-width="1.75"/>
<rect x="670.70" y="519.50" width="11.2" height="11.2" fill="#fff" stroke="#2e3192" stroke-width="1.1"/>
<path d="M668.50,525.10L676.30,517.00L684.10,525.10L676.30,533.20Z" fill="#ed1c24" stroke="#2e3192" stroke-width="1.0" stroke-linejoin="miter"/>
<circle cx="676.30" cy="525.10" r="0.6" fill="#2e3192" opacity="0.6"/>
<rect x="523.05" y="746.25" width="9.9" height="9.9" fill="#00a651" stroke="#1a1a1a" stroke-width="1.75"/>
<rect x="523.05" y="783.65" width="9.9" height="9.9" fill="#00a651" stroke="#1a1a1a" stroke-width="1.75"/>
<rect x="568.40" y="782.30" width="11.2" height="11.2" fill="#fff" stroke="#2e3192" stroke-width="1.1"/>
<path d="M566.20,787.90L574.00,779.80L581.80,787.90L574.00,796.00Z" fill="#ed1c24" stroke="#2e3192" stroke-width="1.0" stroke-linejoin="miter"/>
<circle cx="574.00" cy="787.90" r="0.6" fill="#2e3192" opacity="0.6"/>
<!-- tick labels -->
<g filter="url(#gs)">
<text transform="translate(73.50,270.40) scale(0.965,1.06)" font-size="22.8" text-anchor="end" >0.0</text>
<text transform="translate(73.50,212.45) scale(0.965,1.06)" font-size="22.8" text-anchor="end" >0.2</text>
<text transform="translate(73.50,154.50) scale(0.965,1.06)" font-size="22.8" text-anchor="end" >0.4</text>
<text transform="translate(73.50,96.55) scale(0.965,1.06)" font-size="22.8" text-anchor="end" >0.6</text>
<text transform="translate(73.50,38.60) scale(0.965,1.06)" font-size="22.8" text-anchor="end" >0.8</text>
<text transform="translate(73.50,533.10) scale(0.965,1.06)" font-size="22.8" text-anchor="end" >0.0</text>
<text transform="translate(73.50,476.44) scale(0.965,1.06)" font-size="22.8" text-anchor="end" >0.2</text>
<text transform="translate(73.50,417.88) scale(0.965,1.06)" font-size="22.8" text-anchor="end" >0.4</text>
<text transform="translate(73.50,359.32) scale(0.965,1.06)" font-size="22.8" text-anchor="end" >0.6</text>
<text transform="translate(73.50,300.76) scale(0.965,1.06)" font-size="22.8" text-anchor="end" >0.8</text>
<text transform="translate(73.50,796.50) scale(0.965,1.06)" font-size="22.8" text-anchor="end" >0.0</text>
<text transform="translate(73.50,743.96) scale(0.965,1.06)" font-size="22.8" text-anchor="end" >0.2</text>
<text transform="translate(73.50,691.42) scale(0.965,1.06)" font-size="22.8" text-anchor="end" >0.4</text>
<text transform="translate(73.50,638.88) scale(0.965,1.06)" font-size="22.8" text-anchor="end" >0.6</text>
<text transform="translate(73.50,586.34) scale(0.965,1.06)" font-size="22.8" text-anchor="end" >0.8</text>
<text transform="translate(94.10,823.00) scale(0.965,1.06)" font-size="22.8" text-anchor="middle" >0.0</text>
<text transform="translate(181.10,823.00) scale(0.965,1.06)" font-size="22.8" text-anchor="middle" >0.2</text>
<text transform="translate(268.10,823.00) scale(0.965,1.06)" font-size="22.8" text-anchor="middle" >0.4</text>
<text transform="translate(355.10,823.00) scale(0.965,1.06)" font-size="22.8" text-anchor="middle" >0.6</text>
<text transform="translate(442.10,823.00) scale(0.965,1.06)" font-size="22.8" text-anchor="middle" >0.8</text>
<text transform="translate(529.10,823.00) scale(0.965,1.06)" font-size="22.8" text-anchor="middle" >1.0</text>
<text transform="translate(616.10,823.00) scale(0.965,1.06)" font-size="22.8" text-anchor="middle" >1.2</text>
<text transform="translate(703.10,823.00) scale(0.965,1.06)" font-size="22.8" text-anchor="middle" >1.4</text>
<!-- axis labels -->
<g transform="translate(17.5,156.90) rotate(-90)"><text transform="translate(-1.00,0.00) scale(1.1,0.95)" font-size="25.5" text-anchor="start" >ρ</text>
<text transform="translate(12.70,7.70) scale(0.98,1.04)" font-size="21.3" text-anchor="start" >0</text>
<text transform="translate(23.30,0.20) scale(1.0,1.03)" font-size="26" text-anchor="start" >/</text>
<text transform="translate(30.90,0.00) scale(1.1,0.95)" font-size="25.5" text-anchor="start" >ρ</text>
</g>
<g transform="translate(17.5,419.90) rotate(-90)"><text transform="translate(-1.00,0.00) scale(1.1,0.95)" font-size="25.5" text-anchor="start" >ρ</text>
<text transform="translate(12.70,7.70) scale(0.98,1.04)" font-size="21.3" text-anchor="start" >0</text>
<text transform="translate(23.30,0.20) scale(1.0,1.03)" font-size="26" text-anchor="start" >/</text>
<text transform="translate(30.90,0.00) scale(1.1,0.95)" font-size="25.5" text-anchor="start" >ρ</text>
</g>
<g transform="translate(17.5,682.90) rotate(-90)"><text transform="translate(-1.00,0.00) scale(1.1,0.95)" font-size="25.5" text-anchor="start" >ρ</text>
<text transform="translate(12.70,7.70) scale(0.98,1.04)" font-size="21.3" text-anchor="start" >0</text>
<text transform="translate(23.30,0.20) scale(1.0,1.03)" font-size="26" text-anchor="start" >/</text>
<text transform="translate(30.90,0.00) scale(1.1,0.95)" font-size="25.5" text-anchor="start" >ρ</text>
</g>
<text transform="translate(380.15,851.40) scale(1.0,1.0)" font-size="25" text-anchor="start" >T</text>
<text transform="translate(395.00,858.80) scale(1.0,1.0)" font-size="22.5" text-anchor="start" >c</text>
<text transform="translate(405.90,851.60) scale(1.0,1.0)" font-size="25.6" text-anchor="start" >/</text>
<text transform="translate(412.55,851.40) scale(1.0,1.0)" font-size="25" text-anchor="start" >T</text>
<text transform="translate(427.40,859.10) scale(1.0,1.0)" font-size="21.6" text-anchor="start" >0</text>
<!-- legend text -->
<text transform="translate(596.70,57.60) scale(1.0,1.0)" font-size="17.2" text-anchor="start" >LOAF</text>
<text transform="translate(596.70,81.30) scale(1.0,1.0)" font-size="17.2" text-anchor="start" >Popov</text>
<path d="M650.9,53.5H690.1" stroke="#ed1c24" stroke-width="3.4"/>
<path d="M650.9,77.2H690.1" stroke="#00a651" stroke-width="3.4" stroke-dasharray="6.3 3.1"/>
<text transform="translate(160.05,192.10) scale(1.0,1.0)" font-size="19.6" text-anchor="start" >T</text>
<text transform="translate(171.70,197.00) scale(1.0,1.0)" font-size="15.9" text-anchor="start" >c</text>
<text transform="translate(178.95,191.90) scale(1.025,1.0)" font-size="17.3" text-anchor="start" >(LOAF)</text>
<text transform="translate(158.05,220.00) scale(1.0,1.0)" font-size="19.6" text-anchor="start" >T</text>
<text transform="translate(169.70,224.90) scale(1.0,1.0)" font-size="15.9" text-anchor="start" >c</text>
<text transform="translate(176.95,219.80) scale(1.025,1.0)" font-size="17.3" text-anchor="start" >(Popov)</text>
<rect x="249.35" y="181.35" width="11.2" height="11.2" fill="#fff" stroke="#2e3192" stroke-width="1.1"/>
<path d="M247.15,186.95L254.95,178.85L262.75,186.95L254.95,195.05Z" fill="#ed1c24" stroke="#2e3192" stroke-width="1.0" stroke-linejoin="miter"/>
<circle cx="254.95" cy="186.95" r="0.6" fill="#2e3192" opacity="0.6"/>
<rect x="250.95" y="209.25" width="9.9" height="9.9" fill="#00a651" stroke="#1a1a1a" stroke-width="1.75"/>
<text transform="translate(658.70,143.70) scale(1.0,1.03)" font-size="19.0" text-anchor="start" >a = 1.0</text>
<text transform="translate(641.50,139.60) scale(1.0,1.04)" font-size="13.3" text-anchor="start" >1/3</text>
<text transform="translate(629.20,143.70) scale(1.24,0.95)" font-size="20.5" text-anchor="start" >ρ</text>
<text transform="translate(658.70,343.10) scale(1.0,1.03)" font-size="19.0" text-anchor="start" >a = 0.4</text>
<text transform="translate(641.50,339.00) scale(1.0,1.04)" font-size="13.3" text-anchor="start" >1/3</text>
<text transform="translate(629.20,343.10) scale(1.24,0.95)" font-size="20.5" text-anchor="start" >ρ</text>
<text transform="translate(649.20,597.20) scale(1.0,1.03)" font-size="19.0" text-anchor="start" >a = 0.05</text>
<text transform="translate(632.00,593.10) scale(1.0,1.04)" font-size="13.3" text-anchor="start" >1/3</text>
<text transform="translate(619.70,597.20) scale(1.24,0.95)" font-size="20.5" text-anchor="start" >ρ</text>
</g>
</svg>
</body></html>
